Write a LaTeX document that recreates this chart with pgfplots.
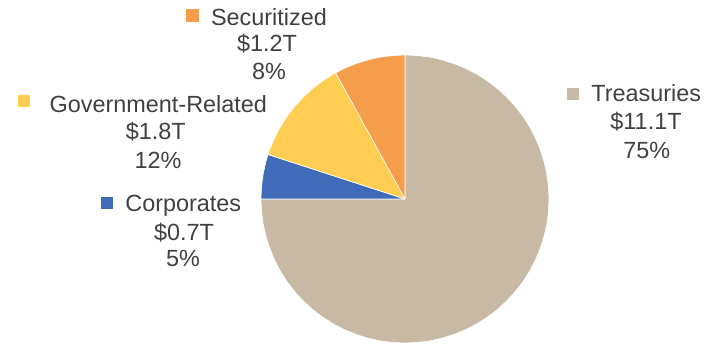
\documentclass[border=0pt]{standalone}
\usepackage{pgfplots}
\pgfplotsset{compat=1.18}
\usepgfplotslibrary{polar}
\usepackage{fontspec}
\setmainfont{Liberation Sans}
\definecolor{trea}{HTML}{C7B9A3}
\definecolor{corp}{HTML}{3F6BB8}
\definecolor{govr}{HTML}{FFCD51}
\definecolor{secu}{HTML}{F49D4A}
\definecolor{txt}{HTML}{404040}
% Shares: Treasuries 75%, Corporates 5%, Government-Related 12%, Securitized 8%
\begin{document}
\begin{tikzpicture}
\path (0bp,0bp) rectangle (714bp,343bp);
\begin{polaraxis}[
  hide axis, clip=false, scale only axis,
  width=288bp, height=288bp,
  xmin=0, xmax=360, ymin=0, ymax=1,
  at={(405bp,144bp)}, anchor=center,
  every axis plot/.append style={draw=white, line width=0.6bp, line join=round}]
% Treasuries 75% : 90 -> -180
\addplot[fill=trea] coordinates {(0,0) (90,1) (85,1) (80,1) (75,1) (70,1) (65,1) (60,1) (55,1) (50,1) (45,1) (40,1) (35,1) (30,1) (25,1) (20,1) (15,1) (10,1) (5,1) (0,1) (-5,1) (-10,1) (-15,1) (-20,1) (-25,1) (-30,1) (-35,1) (-40,1) (-45,1) (-50,1) (-55,1) (-60,1) (-65,1) (-70,1) (-75,1) (-80,1) (-85,1) (-90,1) (-95,1) (-100,1) (-105,1) (-110,1) (-115,1) (-120,1) (-125,1) (-130,1) (-135,1) (-140,1) (-145,1) (-150,1) (-155,1) (-160,1) (-165,1) (-170,1) (-175,1) (-180,1) (0,0)};
% Corporates 5% : 180 -> 162
\addplot[fill=corp] coordinates {(0,0) (180,1) (175,1) (170,1) (165,1) (162,1) (0,0)};
% Government-Related 12% : 162 -> 118.8
\addplot[fill=govr] coordinates {(0,0) (162,1) (160,1) (155,1) (150,1) (145,1) (140,1) (135,1) (130,1) (125,1) (120,1) (118.8,1) (0,0)};
% Securitized 8% : 118.8 -> 90
\addplot[fill=secu] coordinates {(0,0) (118.8,1) (115,1) (110,1) (105,1) (100,1) (95,1) (90,1) (0,0)};
\end{polaraxis}
\begin{scope}[every node/.style={anchor=base, inner sep=0pt, text=txt, font=\fontsize{23.5}{27}\selectfont}]
\node at (269bp,317.3bp) {Securitized};
\node at (267bp,291.3bp) {\$1.2T};
\node at (269bp,263.7bp) {8\%};
\node at (158.3bp,230.3bp) {Government-Related};
\node at (155.7bp,203bp) {\$1.8T};
\node at (158bp,174.7bp) {12\%};
\node at (183.3bp,131.3bp) {Corporates};
\node at (184bp,103bp) {\$0.7T};
\node at (183bp,76.3bp) {5\%};
\node at (646.3bp,241.3bp) {Treasuries};
\node at (646bp,213bp) {\$11.1T};
\node at (646.7bp,184.7bp) {75\%};
\end{scope}
\begin{scope}[every node/.style={anchor=center, inner sep=0pt}]
\node at (192.7bp,327.3bp) {\textcolor{secu}{\rule{13bp}{13bp}}};
\node at (24.2bp,241.7bp) {\textcolor{govr}{\rule{12bp}{12bp}}};
\node at (106.7bp,140bp) {\textcolor{corp}{\rule{12bp}{12bp}}};
\node at (572.5bp,249bp) {\textcolor{trea}{\rule{12bp}{12bp}}};
\end{scope}
\end{tikzpicture}
\end{document}
